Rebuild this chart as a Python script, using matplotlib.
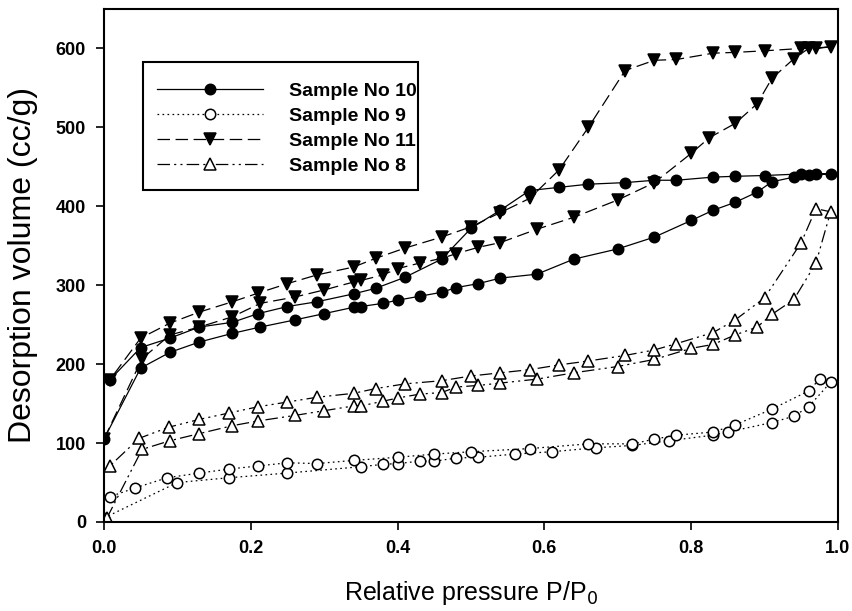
import numpy as np
import matplotlib
matplotlib.use("Agg")
import matplotlib.pyplot as plt
from matplotlib import font_manager
from matplotlib.patches import Rectangle

plt.rcParams['font.family'] = ['Liberation Sans', 'DejaVu Sans']
plt.rcParams['lines.scale_dashes'] = False

# Sample No 10 : lower (adsorption) branch, then upper (desorption) branch
s10_x_ads = [0.0, 0.05, 0.09, 0.13, 0.175, 0.213, 0.26, 0.30, 0.34, 0.35, 0.38, 0.40, 0.43, 0.46,
             0.48, 0.51, 0.54, 0.59, 0.64, 0.70, 0.75, 0.80, 0.83, 0.86, 0.89, 0.91, 0.94, 0.96, 0.99]
s10_y_ads = [105, 195, 215, 228, 239, 247, 256, 264, 272, 273, 277, 281, 286, 291,
             297, 302, 309, 314, 333, 346, 361, 382, 395, 405, 418, 431, 437, 440, 441]
s10_x_des = [0.97, 0.95, 0.90, 0.86, 0.83, 0.78, 0.75, 0.71, 0.66, 0.62, 0.58, 0.54, 0.50,
             0.46, 0.41, 0.37, 0.34, 0.29, 0.25, 0.21, 0.175, 0.13, 0.09, 0.05, 0.008]
s10_y_des = [441, 441, 439, 438, 437, 433, 433, 430, 428, 424, 420, 395, 372,
             333, 310, 296, 289, 279, 273, 264, 253, 247, 233, 221, 180]

# Sample No 9
s9_x_ads = [0.0, 0.10, 0.17, 0.25, 0.35, 0.38, 0.40, 0.43, 0.45, 0.48, 0.51, 0.56, 0.61,
            0.67, 0.72, 0.77, 0.83, 0.85, 0.91, 0.94, 0.96, 0.99]
s9_y_ads = [5, 50, 56, 62, 70, 73, 74, 77, 77, 81, 82, 86, 89,
            94, 97, 103, 110, 114, 126, 134, 146, 177]
s9_x_des = [0.975, 0.96, 0.91, 0.86, 0.83, 0.78, 0.75, 0.72, 0.66, 0.58, 0.50, 0.45, 0.40,
            0.34, 0.29, 0.25, 0.21, 0.17, 0.13, 0.086, 0.042, 0.008]
s9_y_des = [181, 166, 143, 123, 114, 110, 105, 99, 99, 93, 89, 86, 82,
            78, 74, 75, 71, 67, 62, 56, 43, 32]

# Sample No 11
s11_x_ads = [0.0, 0.052, 0.09, 0.13, 0.175, 0.213, 0.26, 0.30, 0.34, 0.35, 0.38, 0.40, 0.43, 0.46,
             0.48, 0.51, 0.54, 0.59, 0.64, 0.70, 0.75, 0.80, 0.825, 0.86, 0.89, 0.91, 0.94, 0.96, 0.99]
s11_y_ads = [105, 207, 237, 247, 260, 277, 285, 294, 304, 306, 313, 321, 328, 334,
             340, 348, 354, 371, 386, 408, 430, 467, 487, 505, 530, 562, 587, 600, 602]
s11_x_des = [0.97, 0.95, 0.90, 0.86, 0.83, 0.78, 0.75, 0.71, 0.66, 0.62, 0.58, 0.54, 0.50,
             0.46, 0.41, 0.37, 0.34, 0.29, 0.25, 0.21, 0.175, 0.13, 0.09, 0.05, 0.008]
s11_y_des = [600, 600, 597, 595, 594, 586, 585, 572, 500, 446, 410, 392, 374,
             361, 347, 334, 323, 313, 302, 290, 279, 266, 252, 233, 180]

# Sample No 8
s8_x_ads = [0.004, 0.052, 0.09, 0.13, 0.175, 0.21, 0.26, 0.30, 0.34, 0.35, 0.38, 0.40, 0.43, 0.46,
            0.48, 0.51, 0.54, 0.59, 0.64, 0.70, 0.75, 0.80, 0.83, 0.86, 0.89, 0.91, 0.94, 0.97, 0.99]
s8_y_ads = [5, 92, 103, 112, 122, 128, 135, 141, 147, 147, 153, 157, 162, 164,
            171, 173, 176, 181, 189, 197, 206, 220, 225, 237, 247, 263, 282, 328, 393]
s8_x_des = [0.97, 0.95, 0.90, 0.86, 0.83, 0.78, 0.75, 0.71, 0.66, 0.62, 0.58, 0.54, 0.50,
            0.46, 0.41, 0.37, 0.34, 0.29, 0.25, 0.21, 0.17, 0.13, 0.088, 0.048, 0.008]
s8_y_des = [397, 354, 284, 256, 240, 226, 218, 211, 204, 199, 193, 189, 185,
            179, 175, 169, 163, 158, 152, 146, 138, 130, 120, 106, 71]

labels = ["Sample No 10", "Sample No 9", "Sample No 11", "Sample No 8"]


def loop(xa, ya, xd, yd):
    # one closed hysteresis curve: go up the lower branch, come back on the upper one
    return np.r_[xa, xd], np.r_[ya, yd]


curves = [loop(s10_x_ads, s10_y_ads, s10_x_des, s10_y_des),
          loop(s9_x_ads, s9_y_ads, s9_x_des, s9_y_des),
          loop(s11_x_ads, s11_y_ads, s11_x_des, s11_y_des),
          loop(s8_x_ads, s8_y_ads, s8_x_des, s8_y_des)]

# line style, marker, marker size, face colour
styles = [("-", "o", 7.5, "black"),
          ((0, (1.2, 2.4)), "o", 7.5, "white"),
          ((0, (9, 4)), "v", 8, "black"),
          ((0, (9, 3, 1.5, 3, 1.5, 3)), "^", 8.5, "white")]

fig = plt.figure(figsize=(8.52, 6.11), dpi=100)
ax = fig.add_axes([0.122, 0.1457, 0.8615, 0.8396])

for (x, y), lab, (ls, m, ms, fc) in zip(curves, labels, styles):
    ax.plot(x, y, color="black", lw=0.9, ls=ls, marker=m, ms=ms,
            mfc=fc, mec="black", mew=1.1, label=lab)

ax.set_xlim(0, 1.0)
ax.set_ylim(0, 650)
ax.set_xticks(np.arange(0, 1.01, 0.2))
ax.set_yticks(np.arange(0, 601, 100))
ax.set_xticklabels([f"{v:.1f}" for v in np.arange(0, 1.01, 0.2)])
ax.tick_params(direction="out", length=6, width=1.2, labelsize=13, pad=7,
               top=False, right=False)
for t in ax.get_xticklabels() + ax.get_yticklabels():
    t.set_fontweight("bold")
for sp in ax.spines.values():
    sp.set_linewidth(1.5)

# narrow face for the x title if it is there, otherwise a smaller regular one
installed = {f.name for f in font_manager.fontManager.ttflist}
if "Liberation Sans Narrow" in installed:
    ax.set_xlabel("Relative pressure P/P$_0$", fontsize=21.5, family="Liberation Sans Narrow")
else:
    ax.set_xlabel("Relative pressure P/P$_0$", fontsize=18, family="Liberation Sans")
ax.set_ylabel("Desorption volume (cc/g)", fontsize=23)
ax.xaxis.set_label_coords(0.5, -0.138)
ax.yaxis.set_label_coords(-0.11, 0.5)
ax.xaxis.label.set_va("center")
ax.yaxis.label.set_va("center")

# legend box drawn as a fixed rectangle, entries placed inside it
ax.add_patch(Rectangle((0.053, 0.647), 0.375, 0.25, transform=ax.transAxes,
                       facecolor="white", edgecolor="black", lw=1.5, zorder=4))
leg = ax.legend(loc="upper left", bbox_to_anchor=(0.053, 0.8838), borderaxespad=0,
                frameon=False, prop={"weight": "bold", "size": 14},
                handlelength=5.46, handletextpad=1.34, borderpad=0.72,
                labelspacing=0.38, numpoints=1)
leg.set_zorder(5)

fig.savefig("out.png", dpi=100)
